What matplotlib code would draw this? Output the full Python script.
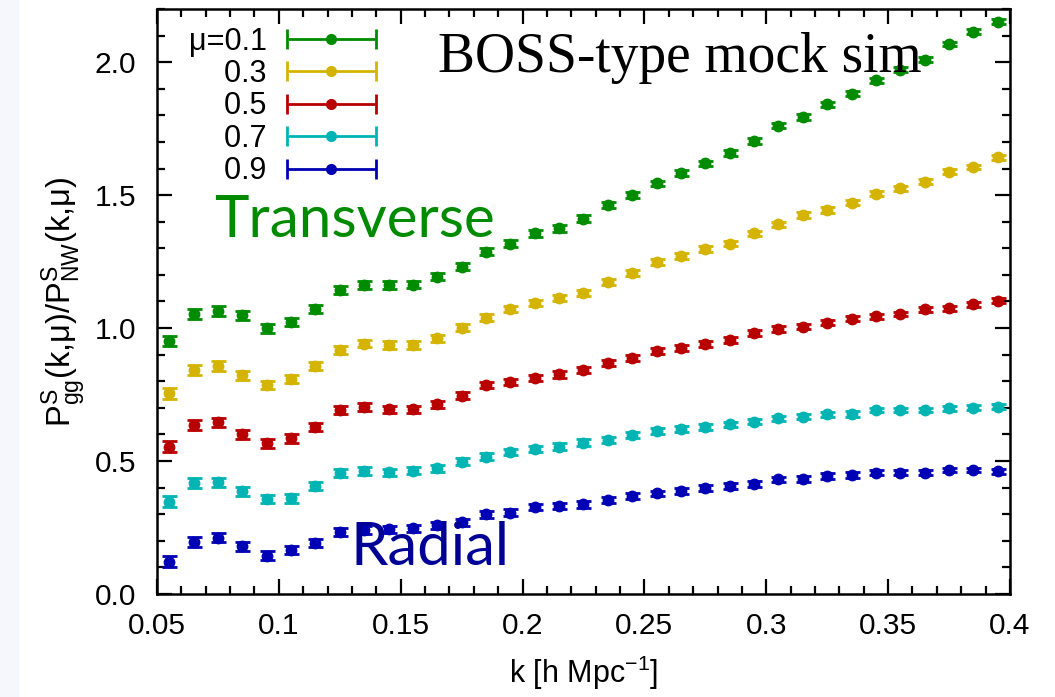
import matplotlib
matplotlib.use('Agg')
import matplotlib.pyplot as plt
import numpy as np
from matplotlib.container import ErrorbarContainer
from matplotlib.legend_handler import HandlerErrorbar
from matplotlib.patches import Rectangle
from matplotlib.ticker import MultipleLocator

# bins em k (centro dos bins)
k = [0.055, 0.065, 0.075, 0.085, 0.095, 0.105, 0.115, 0.125, 0.135, 0.145,
     0.155, 0.165, 0.175, 0.185, 0.195, 0.205, 0.215, 0.225, 0.235, 0.245,
     0.255, 0.265, 0.275, 0.285, 0.295, 0.305, 0.315, 0.325, 0.335, 0.345,
     0.355, 0.365, 0.375, 0.385, 0.395]

mu_01 = [0.951, 1.054, 1.064, 1.049, 0.999, 1.023, 1.073, 1.144, 1.162, 1.162,
         1.163, 1.193, 1.230, 1.287, 1.318, 1.356, 1.375, 1.412, 1.462, 1.500,
         1.544, 1.582, 1.619, 1.659, 1.704, 1.761, 1.794, 1.842, 1.882, 1.932,
         1.972, 2.010, 2.068, 2.114, 2.152]
mu_03 = [0.754, 0.842, 0.858, 0.823, 0.786, 0.808, 0.858, 0.917, 0.942, 0.936,
         0.936, 0.961, 1.001, 1.039, 1.071, 1.095, 1.114, 1.133, 1.174, 1.206,
         1.247, 1.272, 1.296, 1.318, 1.356, 1.390, 1.425, 1.444, 1.471, 1.506,
         1.525, 1.550, 1.588, 1.606, 1.642]
mu_05 = [0.554, 0.635, 0.645, 0.600, 0.566, 0.585, 0.629, 0.692, 0.704, 0.694,
         0.694, 0.714, 0.746, 0.786, 0.798, 0.813, 0.826, 0.842, 0.870, 0.886,
         0.914, 0.926, 0.940, 0.955, 0.982, 0.996, 1.005, 1.020, 1.036, 1.045,
         1.053, 1.071, 1.074, 1.090, 1.103]
mu_07 = [0.347, 0.419, 0.420, 0.387, 0.357, 0.360, 0.407, 0.456, 0.462, 0.457,
         0.464, 0.472, 0.497, 0.516, 0.535, 0.545, 0.554, 0.569, 0.579, 0.598,
         0.613, 0.619, 0.629, 0.638, 0.648, 0.660, 0.667, 0.676, 0.677, 0.692,
         0.692, 0.692, 0.698, 0.700, 0.704]
mu_09 = [0.121, 0.197, 0.212, 0.180, 0.144, 0.165, 0.193, 0.234, 0.240, 0.243,
         0.247, 0.259, 0.270, 0.300, 0.306, 0.328, 0.332, 0.337, 0.353, 0.368,
         0.378, 0.388, 0.397, 0.406, 0.414, 0.431, 0.432, 0.444, 0.447, 0.456,
         0.456, 0.456, 0.466, 0.466, 0.462]

# barras de erro (aprox.)
erro = [0.020, 0.019, 0.018, 0.017, 0.016, 0.016, 0.015, 0.015, 0.014, 0.014,
        0.014, 0.013, 0.013, 0.013, 0.012, 0.012, 0.012, 0.012, 0.011, 0.011,
        0.011, 0.011, 0.011, 0.010, 0.010, 0.010, 0.010, 0.010, 0.010, 0.009,
        0.009, 0.009, 0.009, 0.009, 0.009]

series = [mu_01, mu_03, mu_05, mu_07, mu_09]
rotulos = ['μ=0.1', '\u2007\u20070.3', '\u2007\u20070.5', '\u2007\u20070.7', '\u2007\u20070.9']
cores = ['#008c00', '#d4b400', '#b80000', '#00b4b4', '#0000b4']

plt.rcParams['font.family'] = ['Liberation Sans', 'DejaVu Sans']
plt.rcParams['mathtext.fontset'] = 'custom'
plt.rcParams['mathtext.rm'] = 'Liberation Sans'
plt.rcParams['mathtext.it'] = 'Liberation Sans:italic'

fig = plt.figure(figsize=(10.55, 6.97), dpi=100)
fig.patches.append(Rectangle((0, 0), 18 / 1055, 1, transform=fig.transFigure,
                             color='#f6f7fc', zorder=-10))
ax = fig.add_axes([0.1488, 0.1478, 0.8085, 0.8393])

proxies = []
for y, c, lab in zip(series, cores, rotulos):
    ax.errorbar(k, y, yerr=erro, fmt='o', color=c, ms=7.5, elinewidth=2,
                capsize=5.4, capthick=2)
    # handle da legenda no estilo gnuplot (barra horizontal com caps)
    p = ax.errorbar([np.nan], [np.nan], xerr=[1.0], fmt='o', color=c, ms=7,
                    elinewidth=2, capsize=7, capthick=2, label=lab)
    proxies.append(p)

ax.set_xlim(0.05, 0.4)
ax.set_ylim(0, 2.2)
ax.xaxis.set_minor_locator(MultipleLocator(0.01))
ax.yaxis.set_minor_locator(MultipleLocator(0.1))
ax.set_xticks([0.05, 0.1, 0.15, 0.2, 0.25, 0.3, 0.35, 0.4])
ax.set_xticklabels(['0.05', '0.1', '0.15', '0.2', '0.25', '0.3', '0.35', '0.4'])
ax.set_yticks([0.0, 0.5, 1.0, 1.5, 2.0])
ax.set_yticklabels(['0.0', '0.5', '1.0', '1.5', '2.0'])

ax.tick_params(which='both', direction='in', top=True, right=True, width=1.6,
               labelsize=21.5)
ax.tick_params(which='major', length=11)
ax.tick_params(which='minor', length=5.5)
ax.tick_params(axis='x', pad=13)
ax.tick_params(axis='y', pad=15)
for s in ax.spines.values():
    s.set_linewidth(1.8)

ax.set_xlabel('k [h Mpc$^{-1}$]', fontsize=22, labelpad=10)
ax.set_ylabel('$\\mathrm{P^{S}_{gg}(k{,}μ)/P^{S}_{NW}(k{,}μ)}$', fontsize=23.5, labelpad=5)

leg = ax.legend(handles=proxies, loc='upper left', bbox_to_anchor=(0.037, 0.97),
                frameon=False, markerfirst=False, fontsize=22, labelspacing=0.08,
                handlelength=2.95, handletextpad=0.65, borderpad=0, borderaxespad=0,
                handler_map={ErrorbarContainer: HandlerErrorbar(xerr_size=1.45)})

ax.text(0.1652, 1.962, 'BOSS-type mock sim', fontsize=40, family='Liberation Serif',
        ha='left', va='baseline', color='black')
ax.text(0.0736, 1.342, 'Transverse', fontsize=42, family='Lato', ha='left',
        va='baseline', color='#008a00')
ax.text(0.1295, 0.109, 'Radial', fontsize=43, family='Lato', ha='left',
        va='baseline', color='#000096')

plt.savefig('out.png', dpi=100)
